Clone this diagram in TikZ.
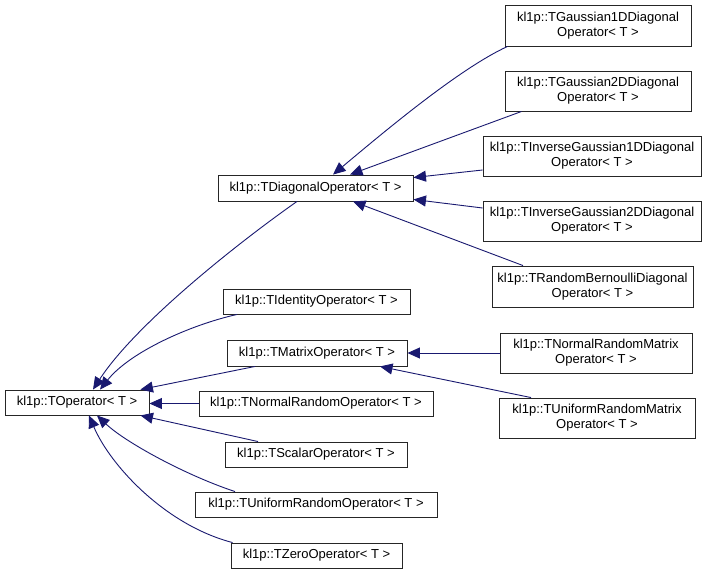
\documentclass[tikz,border=0pt]{standalone}
\usepackage{fontspec}
\setmainfont{Liberation Sans}
\usetikzlibrary{arrows.meta}
\definecolor{edgeblue}{HTML}{191970}
\begin{document}
\begin{tikzpicture}[x=1pt,y=-1pt,
  cls/.style={draw=black!85, line width=0.9pt, fill=white, inner sep=0pt, align=center,
    font=\fontsize{13}{15}\selectfont},
  inh/.style={draw=edgeblue, line width=0.9pt, -{Triangle[length=12.5pt,width=11pt]}, fill=none}]
\fill[white] (0,0) rectangle (717,574);
\useasboundingbox (0,0) rectangle (717,574);
% nodes
\node[cls, minimum width=144pt, minimum height=25pt] (top) at (77,402.5) {kl1p::TOperator< T >};
\node[cls, minimum width=195pt, minimum height=26pt] (diag) at (315.5,188) {kl1p::TDiagonalOperator< T >};
\node[cls, minimum width=186pt, minimum height=41pt] (g1) at (598,25.5) {kl1p::TGaussian1DDiagonal\\Operator< T >};
\node[cls, minimum width=186pt, minimum height=40pt] (g2) at (598,91) {kl1p::TGaussian2DDiagonal\\Operator< T >};
\node[cls, minimum width=218pt, minimum height=40pt] (ig1) at (592,156) {kl1p::TInverseGaussian1DDiagonal\\Operator< T >};
\node[cls, minimum width=218pt, minimum height=40pt] (ig2) at (592,221) {kl1p::TInverseGaussian2DDiagonal\\Operator< T >};
\node[cls, minimum width=201pt, minimum height=41pt] (rb) at (592.5,286.5) {kl1p::TRandomBernoulliDiagonal\\Operator< T >};
\node[cls, minimum width=192pt, minimum height=40pt] (nrm) at (596,353) {kl1p::TNormalRandomMatrix\\Operator< T >};
\node[cls, minimum width=196pt, minimum height=40pt] (urm) at (597,418) {kl1p::TUniformRandomMatrix\\Operator< T >};
\node[cls, minimum width=187pt, minimum height=25pt] (ident) at (316.5,301.5) {kl1p::TIdentityOperator< T >};
\node[cls, minimum width=180pt, minimum height=26pt] (matrix) at (317,353) {kl1p::TMatrixOperator< T >};
\node[cls, minimum width=234pt, minimum height=25pt] (nro) at (316,403.5) {kl1p::TNormalRandomOperator< T >};
\node[cls, minimum width=182pt, minimum height=25pt] (scal) at (316,454.5) {kl1p::TScalarOperator< T >};
\node[cls, minimum width=242pt, minimum height=25pt] (uro) at (316,504.5) {kl1p::TUniformRandomOperator< T >};
\node[cls, minimum width=171pt, minimum height=25pt] (zero) at (316.5,555.5) {kl1p::TZeroOperator< T >};
% edges to TOperator
\draw[inh] ([xshift=-18.5pt]diag.south) .. controls (235,245) and (135,325) .. ([xshift=16pt]top.north);
\draw[inh] ([xshift=-79.5pt]ident.south) .. controls (190,325) and (130,352) .. ([xshift=23pt]top.north);
\draw[inh] ([xshift=-62pt]matrix.south) -- ([xshift=-9pt]top.north east);
\draw[inh] (nro.west) -- (nro.west -| top.east);
\draw[inh] ([xshift=-58pt]scal.north) -- ([xshift=-9pt]top.south east);
\draw[inh] ([xshift=-81pt]uro.north) .. controls (185,475) and (125,442) .. ([xshift=20pt]top.south);
\draw[inh] ([xshift=2pt]zero.north west) .. controls (165,525) and (110,465) .. ([xshift=12pt]top.south);
% edges to TDiagonalOperator
\draw[inh] ([xshift=3pt]g1.south west) .. controls (458,69) and (378,137) .. ([xshift=17.5pt]diag.north);
\draw[inh] ([xshift=17pt]g2.south west) -- ([xshift=34.5pt]diag.north);
\draw[inh] ([yshift=-14pt]ig1.west) -- ([yshift=-3pt]diag.north east);
\draw[inh] ([yshift=13pt]ig2.west) -- ([yshift=2pt]diag.south east);
\draw[inh] ([xshift=-69.5pt]rb.north) -- ([xshift=37.5pt]diag.south);
% edges to TMatrixOperator
\draw[inh] (nrm.west) -- (nrm.west -| matrix.east);
\draw[inh] ([xshift=-66pt]urm.north) -- ([xshift=63pt]matrix.south);
\end{tikzpicture}
\end{document}
